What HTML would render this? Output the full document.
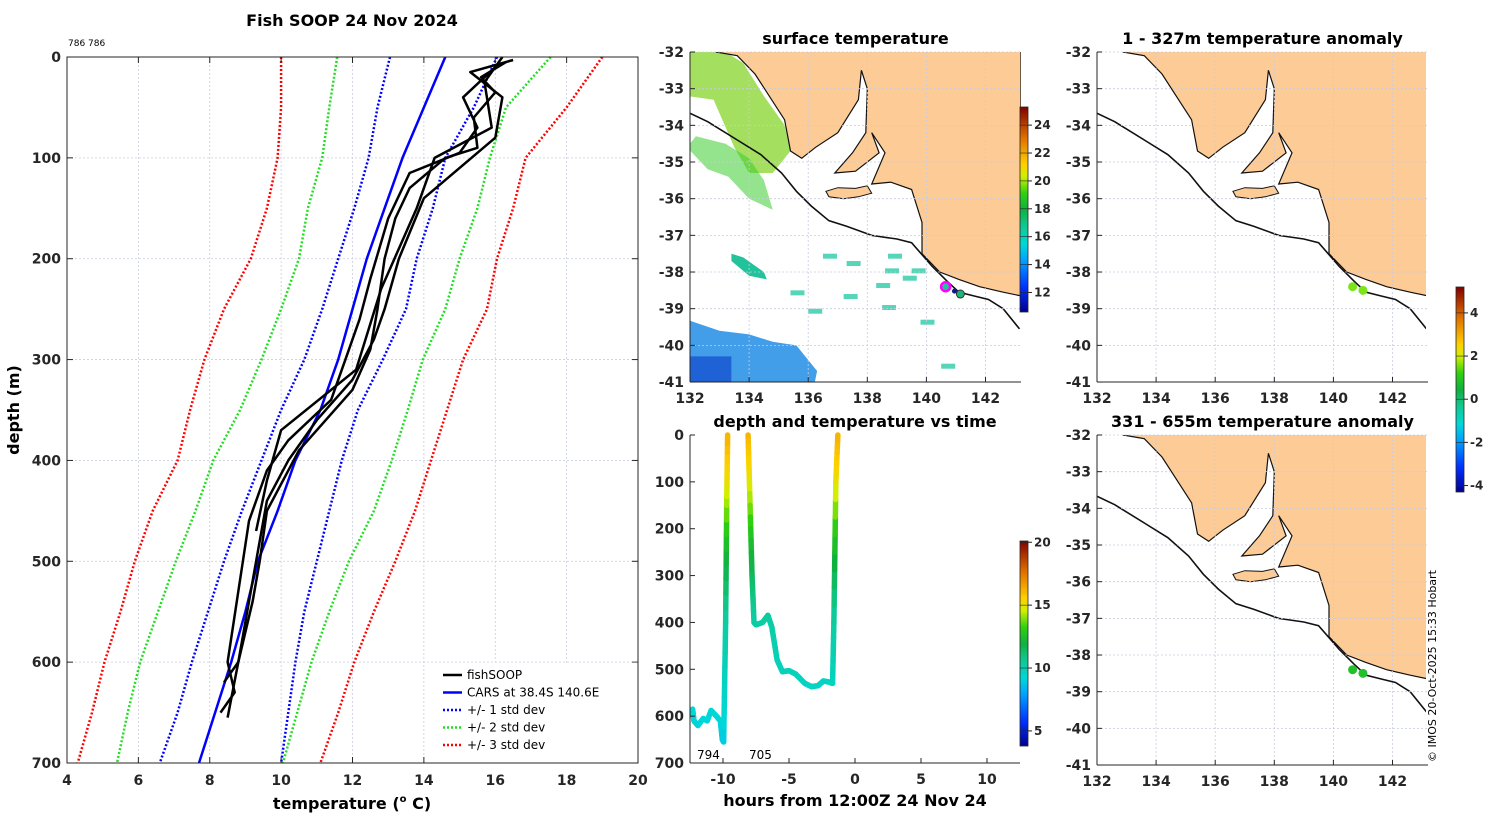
<!DOCTYPE html>
<html><head><meta charset="utf-8"><style>
html,body{margin:0;padding:0;background:#fff;}
svg{display:block;font-family:"DejaVu Sans","Liberation Sans",sans-serif;}
.tk{font-size:14px;font-weight:bold;fill:#262626;}
.ttl{font-size:16px;font-weight:bold;fill:#000;}
.grid{stroke:#c8cce0;stroke-width:0.8;stroke-dasharray:2,2;}
</style></head><body>
<svg id="root" width="1500" height="820" viewBox="0 0 1500 820" xmlns="http://www.w3.org/2000/svg">
<defs>
<linearGradient id="jet" x1="0" y1="1" x2="0" y2="0"></linearGradient>
<clipPath id="c1"><rect x="690" y="52" width="331" height="330"/></clipPath>
<clipPath id="c2"><rect x="1097" y="52" width="329" height="330"/></clipPath>
<clipPath id="c3"><rect x="1097" y="435" width="329" height="328"/></clipPath>
</defs>
<g id="gProfile"></g>
<g id="gSST"></g>
<g id="gTime"></g>
<g id="gA1"></g>
<g id="gA2"></g>
<text x="1436" y="762" transform="rotate(-90 1436 762)" font-size="11" fill="#000">© IMOS 20-Oct-2025 15:33 Hobart</text>
</svg>
<script>
// ---------- profile chart data ----------
const stdDepths = [0,50,100,150,200,250,300,350,400,450,500,550,600,650,700];
const carsMean  = [14.6,14.0,13.4,12.9,12.4,12.0,11.6,11.1,10.4,9.9,9.35,9.0,8.6,8.15,7.7];
const minus1    = [13.05,12.7,12.45,12.05,11.6,11.15,10.65,10.0,9.45,8.9,8.4,7.95,7.5,7.1,6.6];
const plus1     = [16.05,15.4,14.6,14.25,13.8,13.5,12.85,12.15,11.7,11.35,11.0,10.65,10.4,10.2,10.0];
const minus2    = [11.57,11.35,11.15,10.75,10.5,10.0,9.45,8.85,8.1,7.6,7.05,6.55,6.05,5.7,5.4];
const plus2     = [17.55,16.3,15.85,15.5,15.0,14.6,13.97,13.55,13.1,12.6,11.9,11.35,10.85,10.45,10.05];
const minus3    = [10.0,10.0,9.9,9.6,9.15,8.4,7.85,7.45,7.1,6.4,5.9,5.5,5.05,4.7,4.3];
const plus3     = [19.0,18.0,16.85,16.5,16.05,15.77,15.1,14.65,14.2,13.75,13.2,12.6,12.05,11.6,11.1];
const prof1T = [16.3,15.6,16.0,15.4,15.5,14.6,13.6,13.2,12.9,12.7,12.5,12.0,10.5,9.6,9.4,9.2,8.8,8.5];
const prof1D = [5,20,35,60,90,100,130,160,200,250,290,330,390,450,500,540,600,655];
const prof2T = [16.5,15.3,16.2,16.0,15.0,14.0,13.3,12.9,12.6,12.0,11.0,10.2,9.6,9.3,9.0,8.8,8.4];
const prof2D = [3,15,40,80,110,140,200,250,280,320,360,400,440,500,560,600,620];
const prof3T = [16.0,15.1,15.5,15.0,13.6,13.0,12.5,12.2,11.8,11.4,10.2,9.6,9.1,8.8,8.5,8.7,8.3];
const prof3D = [10,40,70,95,115,160,220,260,300,340,380,410,460,530,600,630,650];
const prof4T = [16.2,15.7,15.9,14.3,13.8,12.8,12.1,10.0,9.6,9.3];
const prof4D = [0,25,70,100,150,230,310,370,420,470];
const xTicks = [4,6,8,10,12,14,16,18,20];
const yTicks = [0,100,200,300,400,500,600,700];
// ---------- time chart data ----------
const trackHours = [-12.3,-12.2,-11.9,-11.5,-11.2,-10.9,-10.5,-10.2,-10.05,-9.95,-9.8,-9.72,-9.65, null,
  -8.1,-8.0,-7.8,-7.65,-7.5,-7.0,-6.6,-6.3,-5.9,-5.5,-5.0,-4.5,-3.8,-3.3,-2.8,-2.4,-2.0,-1.7,-1.6,-1.45,-1.3];
const trackDepth = [585,610,620,605,610,588,600,610,650,655,400,150,0, null,
  0,100,300,400,405,400,385,410,480,505,503,510,530,537,535,525,527,530,400,100,0];
const tempDepth = [0,100,200,300,400,500,600,700];
const tempAtDepth = [16.2,15.0,13.0,11.5,10.2,9.8,9.2,8.5];
const hourTicks = [-10,-5,0,5,10];
const depthTicks2 = [0,100,200,300,400,500,600,700];
// ---------- map data ----------
const landLon = [132.88,133.6,134.2,135.2,135.4,135.78,136.25,137.0,137.7,137.8,138.0,137.95,137.5,136.9,137.6,138.4,138.15,138.6,138.15,138.8,139.5,139.85,139.85,140.45,141.1,141.8,142.6,143.2,143.2];
const landLat = [-32.0,-32.1,-32.6,-33.85,-34.7,-34.9,-34.6,-34.2,-33.3,-32.5,-33.0,-34.2,-34.75,-35.3,-35.25,-34.75,-34.2,-34.75,-35.6,-35.55,-35.75,-36.65,-37.5,-38.0,-38.2,-38.4,-38.55,-38.65,-32.0];
const kiLon = [136.6,137.0,137.6,138.0,138.15,137.7,137.2,136.7];
const kiLat = [-35.8,-35.7,-35.72,-35.65,-35.85,-35.95,-36.0,-35.95];
const shelfLon = [131.95,132.6,133.6,134.4,135.1,135.6,136.1,136.7,137.3,138.15,139.0,139.5,140.2,140.7,141.1,141.6,142.1,142.6,143.15];
const shelfLat = [-33.65,-33.9,-34.4,-34.8,-35.3,-35.8,-36.2,-36.6,-36.75,-37.0,-37.1,-37.2,-37.85,-38.25,-38.55,-38.65,-38.75,-39.0,-39.55];
const obsLon = [140.65,141.0];
const obsLat = [-38.4,-38.5];
const lonTicks = [132,134,136,138,140,142];
const latTicks = [-32,-33,-34,-35,-36,-37,-38,-39,-40,-41];

const NS='http://www.w3.org/2000/svg';
function mk(parent,tag,attrs,txt){const e=document.createElementNS(NS,tag);for(const k in attrs)e.setAttribute(k,attrs[k]);if(txt!==undefined)e.textContent=txt;parent.appendChild(e);return e;}
const cmapStops=[[0,[0,0,143]],[0.12,[0,48,255]],[0.25,[0,160,255]],[0.33,[0,216,216]],[0.42,[16,200,144]],[0.5,[16,176,64]],[0.58,[48,208,16]],[0.66,[208,240,0]],[0.72,[255,208,0]],[0.85,[224,112,0]],[1,[128,0,0]]];
function jet(v){v=Math.max(0,Math.min(1,v));for(let i=0;i<cmapStops.length-1;i++){const a=cmapStops[i],b=cmapStops[i+1];if(v<=b[0]){const f=(v-a[0])/(b[0]-a[0]);const c=a[1].map((x,k)=>Math.round(x+(b[1][k]-x)*f));return `rgb(${c[0]},${c[1]},${c[2]})`;}}return 'rgb(128,0,0)';}
(function(){const gr=document.getElementById('jet');cmapStops.forEach(s=>{mk(gr,'stop',{offset:s[0],'stop-color':`rgb(${s[1].join(',')})`});});})();
function interp(xs,ys,x){for(let i=0;i<xs.length-1;i++){if(x<=xs[i+1])return ys[i]+(ys[i+1]-ys[i])*(x-xs[i])/(xs[i+1]-xs[i]);}return ys[ys.length-1];}

// ===== Profile chart =====
(function(){
const g=document.getElementById('gProfile');
const L=67,R=638,T=57,B=763;
const sx=t=>L+(t-4)*(R-L)/16, sy=d=>T+d*(B-T)/700;
xTicks.forEach(t=>{const l=mk(g,'line',{x1:sx(t),x2:sx(t),y1:T,y2:B,class:'grid'});
});
yTicks.forEach(d=>{const l=mk(g,'line',{x1:L,x2:R,y1:sy(d),y2:sy(d),class:'grid'});
});
function line(ts,ds,color,dash,w,name){const p=ts.map((t,i)=>sx(t).toFixed(1)+','+sy(ds[i]).toFixed(1)).join(' ');
const e=mk(g,'polyline',{points:p,fill:'none',stroke:color,'stroke-width':w,'stroke-dasharray':dash||'none','stroke-linejoin':'round'});
}
line(minus3,stdDepths,'#ff0000','2,2',2.5,'minus-3-std-line');
line(plus3,stdDepths,'#ff0000','2,2',2.5,'plus-3-std-line');
line(minus2,stdDepths,'#22dd22','2,2',2.5,'minus-2-std-line');
line(plus2,stdDepths,'#22dd22','2,2',2.5,'plus-2-std-line');
line(minus1,stdDepths,'#0000ff','2,2',2.5,'minus-1-std-line');
line(plus1,stdDepths,'#0000ff','2,2',2.5,'plus-1-std-line');
line(carsMean,stdDepths,'#0000ff',null,2.5,'cars-mean-line');
line(prof1T,prof1D,'#000',null,2.5,'fishsoop-profile-1');
line(prof2T,prof2D,'#000',null,2.5,'fishsoop-profile-2');
line(prof3T,prof3D,'#000',null,2.5,'fishsoop-profile-3');
line(prof4T,prof4D,'#000',null,2.5,'fishsoop-profile-4');
const fr=mk(g,'rect',{x:L,y:T,width:R-L,height:B-T,fill:'none',stroke:'#262626','stroke-width':1});

xTicks.forEach(t=>{mk(g,'line',{x1:sx(t),x2:sx(t),y1:T,y2:T+6,stroke:'#262626'});mk(g,'line',{x1:sx(t),x2:sx(t),y1:B,y2:B-6,stroke:'#262626'});
const e=mk(g,'text',{x:sx(t),y:B+22,class:'tk','text-anchor':'middle'},t);});
yTicks.forEach(d=>{mk(g,'line',{x1:L,x2:L+6,y1:sy(d),y2:sy(d),stroke:'#262626'});mk(g,'line',{x1:R,x2:R-6,y1:sy(d),y2:sy(d),stroke:'#262626'});
const e=mk(g,'text',{x:L-6,y:sy(d)+5,class:'tk','text-anchor':'end'},d);});
let e=mk(g,'text',{x:352,y:26,class:'ttl','text-anchor':'middle'},'Fish SOOP 24 Nov 2024');
e=mk(g,'text',{x:68,y:46,'font-size':9,fill:'#000'},'786 786');
e=mk(g,'text',{x:19,y:410,class:'ttl','text-anchor':'middle',transform:'rotate(-90 19 410)'},'depth (m)');
e=mk(g,'text',{x:352,y:809,class:'ttl','text-anchor':'middle'});e.innerHTML='temperature (<tspan font-size="10" dy="-7">o</tspan><tspan dy="7"> C)</tspan>';
const lg=mk(g,'g',{});
mk(lg,'rect',{x:437,y:663,width:200,height:99,fill:'#fff',stroke:'#fff'});
const leg=[['fishSOOP','#000',null],['CARS at 38.4S 140.6E','#0000ff',null],['+/- 1 std dev','#0000ff','2,2'],['+/- 2 std dev','#22dd22','2,2'],['+/- 3 std dev','#ff0000','2,2']];
leg.forEach((L2,i)=>{const y=675+i*17.5;const en=mk(lg,'g',{});
mk(en,'line',{x1:443,x2:462,y1:y,y2:y,stroke:L2[1],'stroke-width':2.5,'stroke-dasharray':L2[2]||'none'});
mk(en,'text',{x:467,y:y+4,'font-size':12,fill:'#000'},L2[0]);});
})();

// ===== maps =====
function drawMap(g,left,top,clip,labelLeft,opts){
const sx=lon=>left+(lon-132)*29.55, sy=lat=>top+(-32-lat)*36.67;
const W=331,H=330;
const inner=mk(g,'g',{'clip-path':`url(#${clip})`});
if(opts.sst){
 const pts=(lo,la)=>lo.map((v,i)=>sx(v).toFixed(1)+','+sy(la[i]).toFixed(1)).join(' ');
 let p=mk(inner,'polygon',{points:pts([131.9,133.0,133.8,134.5,135.2,135.4,134.8,134.0,133.5,132.8,131.9],[-31.9,-31.9,-32.3,-33.2,-34.0,-34.7,-35.3,-35.3,-34.6,-33.3,-33.2]),fill:'#86d42a',opacity:0.75});
 
 p=mk(inner,'polygon',{points:pts([131.9,132.2,133.2,134.0,134.5,134.8,134.0,133.3,132.6],[-34.6,-34.3,-34.5,-34.9,-35.5,-36.3,-36.0,-35.4,-35.2]),fill:'#3ccc30',opacity:0.55});
 
 p=mk(inner,'polygon',{points:pts([131.9,133.0,134.0,134.8,135.6,136.3,136.2,131.9],[-39.3,-39.6,-39.7,-39.9,-40.0,-40.7,-41.1,-41.1]),fill:'#2f94e8',opacity:0.9});
 
 p=mk(inner,'rect',{x:sx(131.9),y:sy(-40.3),width:sx(133.4)-sx(131.9),height:sy(-41.1)-sy(-40.3),fill:'#1f62d6'});
 
 p=mk(inner,'polygon',{points:pts([133.4,133.8,134.5,134.6,134.0,133.4],[-37.5,-37.6,-38.0,-38.2,-38.1,-37.7]),fill:'#22c39a'});
 
 const bits=[[136.5,-37.5],[137.3,-37.7],[138.6,-37.9],[139.2,-38.1],[138.3,-38.3],[137.2,-38.6],[138.5,-38.9],[139.8,-39.3],[140.5,-40.5],[135.4,-38.5],[136.0,-39.0],[138.7,-37.5],[139.5,-37.9]];
 bits.forEach(b=>{const r=mk(inner,'rect',{x:sx(b[0]),y:sy(b[1]),width:14,height:5,fill:'#2ccaa6',opacity:0.8});});
}
const land=mk(inner,'polygon',{points:landLon.map((v,i)=>sx(v).toFixed(1)+','+sy(landLat[i]).toFixed(1)).join(' ')+` ${sx(143.3)},${sy(-31.9)} ${sx(132.88)},${sy(-31.9)}`,fill:'#fccb96',stroke:'#111','stroke-width':1.2});

const ki=mk(inner,'polygon',{points:kiLon.map((v,i)=>sx(v).toFixed(1)+','+sy(kiLat[i]).toFixed(1)).join(' '),fill:'#fccb96',stroke:'#111','stroke-width':1});

const sh=mk(inner,'polyline',{points:shelfLon.map((v,i)=>sx(v).toFixed(1)+','+sy(shelfLat[i]).toFixed(1)).join(' '),fill:'none',stroke:'#111','stroke-width':1.6});

lonTicks.forEach(t=>{mk(g,'line',{x1:sx(t),x2:sx(t),y1:top,y2:top+H,class:'grid'});
 const e=mk(g,'text',{x:sx(t),y:top+H+21,class:'tk','text-anchor':'middle'},t);
 mk(g,'line',{x1:sx(t),x2:sx(t),y1:top+H,y2:top+H-5,stroke:'#262626'});});
latTicks.forEach(t=>{mk(g,'line',{x1:left,x2:left+W,y1:sy(t),y2:sy(t),class:'grid'});
 const e=mk(g,'text',{x:left-6,y:sy(t)+5,class:'tk','text-anchor':'end'},t);
 mk(g,'line',{x1:left,x2:left+5,y1:sy(t),y2:sy(t),stroke:'#262626'});});
mk(g,'line',{x1:left,x2:left,y1:top,y2:top+H,stroke:'#262626'});
mk(g,'line',{x1:left,x2:left+W,y1:top+H,y2:top+H,stroke:'#262626'});
if(opts.dots){obsLon.forEach((v,i)=>{const c=mk(g,'circle',{cx:sx(v),cy:sy(obsLat[i]),r:4.5,fill:opts.dots});});}
if(opts.sst){
 let c=mk(g,'circle',{cx:sx(140.65),cy:sy(-38.4),r:4.5,fill:'#22c39a',stroke:'#ff00ff','stroke-width':2.5});
 c=mk(g,'circle',{cx:sx(140.95),cy:sy(-38.52),r:2.5,fill:'#0a1a90'});
 c=mk(g,'circle',{cx:sx(141.15),cy:sy(-38.6),r:4,fill:'#1db57a',stroke:'#333','stroke-width':1});
}
const e=mk(g,'text',{x:left+W/2,y:top-8,class:'ttl','text-anchor':'middle'},opts.title);
}
drawMap(document.getElementById('gSST'),690,52,'c1',true,{sst:true,title:'surface temperature'});
drawMap(document.getElementById('gA1'),1097,52,'c2',true,{dots:'#7be51a',title:'1 - 327m temperature anomaly'});
drawMap(document.getElementById('gA2'),1097,435,'c3',true,{dots:'#22c02a',title:'331 - 655m temperature anomaly'});

function colorbar(g,x,y,h,ticks,vmin,vmax,name){
 const r=mk(g,'rect',{x:x,y:y,width:8,height:h,fill:'url(#jet)',stroke:'#262626','stroke-width':0.8});
 ticks.forEach(t=>{const yy=y+h-(t-vmin)/(vmax-vmin)*h;mk(g,'line',{x1:x+8,x2:x+12,y1:yy,y2:yy,stroke:'#262626'});mk(g,'line',{x1:x,x2:x+8,y1:yy,y2:yy,stroke:'#262626','stroke-width':0.6});
 const e=mk(g,'text',{x:x+14,y:yy+4,'font-size':12,'font-weight':'bold',fill:'#262626'},t);});
}
colorbar(document.getElementById('gSST'),1020,107,205,[12,14,16,18,20,22,24],10.6,25.3,'sst-colorbar');
colorbar(document.getElementById('gA1'),1456,287,205,[4,2,0,-2,-4],-4.3,5.2,'anomaly-colorbar');

// ===== depth/time chart =====
(function(){
const g=document.getElementById('gTime');
const L=690,R=1020,T=435,B=763;
const sx=h=>855+h*13.2, sy=d=>T+d*(B-T)/700;
for(let i=0;i<trackHours.length-1;i++){
 if(trackHours[i]===null||trackHours[i+1]===null)continue;
 const n=8;
 for(let k=0;k<n;k++){
  const a=k/n,b=(k+1)/n;
  const h1=trackHours[i]+(trackHours[i+1]-trackHours[i])*a,h2=trackHours[i]+(trackHours[i+1]-trackHours[i])*b;
  const d1=trackDepth[i]+(trackDepth[i+1]-trackDepth[i])*a,d2=trackDepth[i]+(trackDepth[i+1]-trackDepth[i])*b;
  const t=interp(tempDepth,tempAtDepth,(d1+d2)/2);
  const s=mk(g,'line',{x1:sx(h1),y1:sy(d1),x2:sx(h2),y2:sy(d2),stroke:jet((t-3.8)/16.3),'stroke-width':5.5,'stroke-linecap':'round'});
  
 }
}
mk(g,'line',{x1:L,x2:L,y1:T,y2:B,stroke:'#262626'});mk(g,'line',{x1:L,x2:R,y1:B,y2:B,stroke:'#262626'});
hourTicks.forEach(h=>{mk(g,'line',{x1:sx(h),x2:sx(h),y1:B,y2:B-5,stroke:'#262626'});
 const e=mk(g,'text',{x:sx(h),y:B+21,class:'tk','text-anchor':'middle'},h);});
depthTicks2.forEach(d=>{mk(g,'line',{x1:L,x2:L+5,y1:sy(d),y2:sy(d),stroke:'#262626'});
 const e=mk(g,'text',{x:L-6,y:sy(d)+5,class:'tk','text-anchor':'end'},d);});
let e=mk(g,'text',{x:855,y:427,class:'ttl','text-anchor':'middle'},'depth and temperature vs time');
e=mk(g,'text',{x:855,y:806,class:'ttl','text-anchor':'middle'},'hours from 12:00Z 24 Nov 24');
e=mk(g,'text',{x:697,y:759,'font-size':12,fill:'#000'},'794');
e=mk(g,'text',{x:749,y:759,'font-size':12,fill:'#000'},'705');
colorbar(g,1020,541,205,[20,15,10,5],3.8,20.1,'time-colorbar');
})();
</script>
</body></html>
